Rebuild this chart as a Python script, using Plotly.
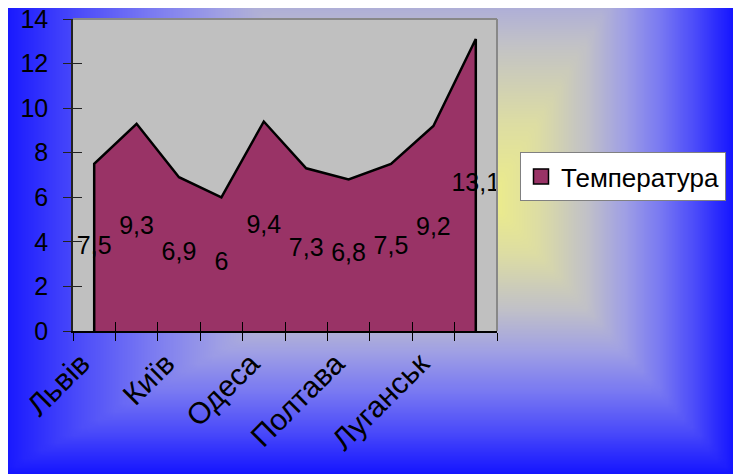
import numpy as np
import plotly.graph_objects as go

# ---- data ----
cities = ["Львів", "Луцьк", "Київ", "Житомир", "Одеса", "Вінниця",
          "Полтава", "Харків", "Луганськ", "Донецьк"]
temperatures = [7.5, 9.3, 6.9, 6.0, 9.4, 7.3, 6.8, 7.5, 9.2, 13.1]
label_every = 2
tick_labels = [c if i % label_every == 0 else "" for i, c in enumerate(cities)]
value_labels = [f"{v:g}".replace(".", ",") for v in temperatures]
y_ticks = list(range(0, 15, 2))
series_name = "Температура"

# ---- style / geometry (screen pixels; page body has an 8px margin) ----
VW, VH = 741, 474          # browser viewport
OFF = 8                    # default body margin of the html page
W, H = VW - OFF, VH - OFF  # figure size so it ends at the viewport edge
FONT = "Arial, Liberation Sans, sans-serif"
AREA = "#993366"


def fx(x):  # screen x -> paper fraction
    return (x - OFF) / W


def fy(y):  # screen y -> paper fraction
    return 1 - (y - OFF) / H


# decorative background gradient (rectangular "from centre" gradient), screen coords
gx = np.linspace(OFF, VW, 90)
gy = np.linspace(OFF, VH, 60)
GX, GY = np.meshgrid(gx, gy)
cx, cy = 490, 200
ddx = np.where(GX < cx, (cx - GX) / 490, (GX - cx) / 243)
ddy = np.where(GY < cy, (cy - GY) / 400, (GY - cy) / 274)
bg_z = np.clip(np.maximum(ddx, ddy), 0, 1)
bg_scale = [[0, "#eeee88"], [0.2, "#dcdca4"], [0.4, "#c0c0c8"], [0.55, "#a0a0e4"],
            [0.7, "#7878f2"], [0.85, "#4848fa"], [1, "#1414ff"]]

fig = go.Figure()

fig.add_trace(go.Heatmap(x=gx, y=gy, z=bg_z, colorscale=bg_scale, zmin=0, zmax=1,
                         zsmooth="best", showscale=False, hoverinfo="skip",
                         xaxis="x", yaxis="y"))

# area polygon closed down to zero at first and last category
area_x = [cities[0]] + cities + [cities[-1]]
area_y = [0] + temperatures + [0]
fig.add_trace(go.Scatter(x=area_x, y=area_y, mode="lines", fill="toself",
                         fillcolor=AREA, line=dict(color="black", width=2.5),
                         showlegend=False, hoverinfo="skip",
                         xaxis="x2", yaxis="y2"))

# data labels placed at half height (like the original)
fig.add_trace(go.Scatter(x=cities, y=[v / 2 for v in temperatures], mode="text",
                         text=value_labels, textposition="middle center",
                         textfont=dict(family=FONT, size=25, color="black"),
                         showlegend=False, hoverinfo="skip",
                         xaxis="x2", yaxis="y2"))

# legend entry
fig.add_trace(go.Scatter(x=[None], y=[None], mode="markers", name=series_name,
                         marker=dict(symbol="square", size=15, color=AREA,
                                     line=dict(color="black", width=1.5)),
                         xaxis="x2", yaxis="y2"))

# overlay axes for inner halves of the crossing tick marks
fig.add_trace(go.Scatter(x=[None], y=[None], mode="markers", showlegend=False,
                         hoverinfo="skip", xaxis="x3", yaxis="y3"))

dom_x = [fx(73), fx(497)]
dom_y = [fy(331), fy(19)]

fig.update_layout(
    template="none",
    width=W, height=H, autosize=False,
    margin=dict(l=0, r=0, t=0, b=0, pad=0),
    paper_bgcolor="#2a2aff", plot_bgcolor="#c0c0c0",
    font=dict(family=FONT, size=25, color="black"),
    xaxis=dict(domain=[0, 1], range=[OFF, VW], visible=False, fixedrange=True,
               automargin=False),
    yaxis=dict(domain=[0, 1], range=[VH, OFF], visible=False, fixedrange=True,
               automargin=False),
    xaxis2=dict(domain=dom_x, anchor="y2", type="category", automargin=False,
                categoryorder="array", categoryarray=cities,
                range=[-0.5, len(cities) - 0.5],
                tickmode="array", tickvals=cities, ticktext=tick_labels,
                tickson="boundaries", ticks="outside", ticklen=8,
                tickcolor="black", tickwidth=1,
                showline=True, linecolor="black", linewidth=2,
                tickangle=-45, ticklabelshift=-13, ticklabelstandoff=1,
                ticklabeloverflow="allow",
                tickfont=dict(family=FONT, size=30, color="black"),
                showgrid=False, zeroline=False),
    yaxis2=dict(domain=dom_y, anchor="x2", range=[0, 14], automargin=False,
                tickmode="array", tickvals=y_ticks,
                ticks="outside", ticklen=8, tickcolor="#222", tickwidth=1,
                showline=True, linecolor="#222", linewidth=1.5,
                tickfont=dict(family=FONT, size=25, color="black"),
                ticklabelstandoff=10, ticklabeloverflow="allow",
                showgrid=False, zeroline=False),
    xaxis3=dict(overlaying="x2", anchor="y2", side="bottom", automargin=False,
                range=[-0.5, len(cities) - 0.5], tick0=-0.5, dtick=1,
                ticks="inside", ticklen=9, tickcolor="black", tickwidth=1,
                showticklabels=False, showline=False, showgrid=False, zeroline=False),
    yaxis3=dict(overlaying="y2", anchor="x2", side="left", automargin=False,
                range=[0, 14], tick0=0, dtick=2,
                ticks="inside", ticklen=9, tickcolor="#222", tickwidth=1,
                showticklabels=False, showline=False, showgrid=False, zeroline=False),
    legend=dict(x=fx(520), y=fy(152), xanchor="left", yanchor="top",
                bgcolor="white", bordercolor="#808080", borderwidth=1,
                font=dict(family=FONT, size=26, color="black")),
    showlegend=True,
)

# gray top/right border of the plot area
fig.add_shape(type="line", xref="x2 domain", yref="y2 domain", x0=0, x1=1, y0=1, y1=1,
              line=dict(color="#888888", width=2))
fig.add_shape(type="line", xref="x2 domain", yref="y2 domain", x0=1, x1=1, y0=0, y1=1,
              line=dict(color="#888888", width=2))

# red strip at the right edge
strip_cols = ["#ff8a8a", "#ff6f80", "#ff5575", "#ff3a6a", "#ff2060"]
n = len(strip_cols)
for i, c in enumerate(strip_cols):
    fig.add_shape(type="rect", xref="paper", yref="paper",
                  x0=fx(733), x1=1, y0=1 - (i + 1) / n, y1=1 - i / n,
                  line=dict(width=0), fillcolor=c, layer="above")

fig.write_html("out.html")
